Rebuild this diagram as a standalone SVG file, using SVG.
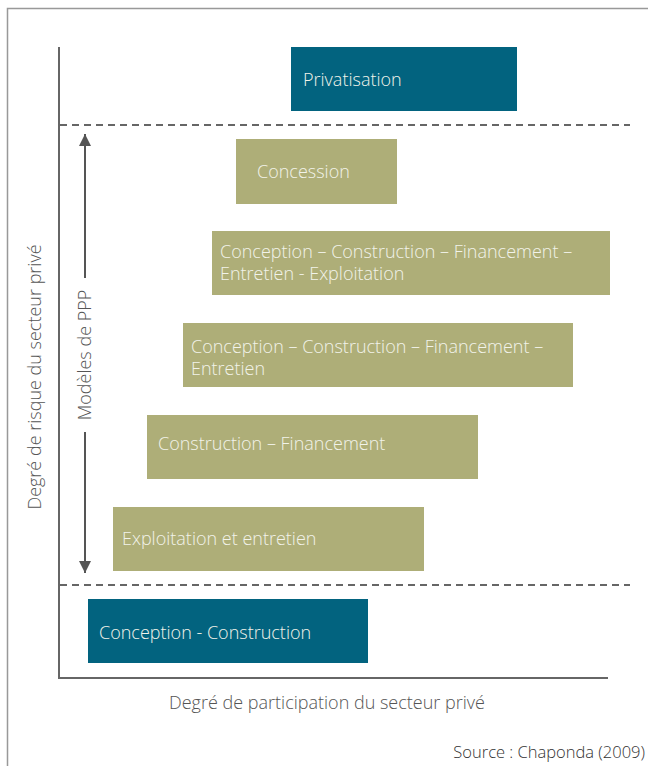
<svg xmlns="http://www.w3.org/2000/svg" width="648" height="766" viewBox="0 0 648 766">
<defs>
<style>
.blue{fill:#02637F}
.olive{fill:#AEAE78}
.bt{font-family:"Open Sans","Noto Sans",sans-serif;font-weight:300;font-size:18px;fill:#F2F3EA}
.gt{font-family:"Open Sans","Noto Sans",sans-serif;font-weight:300;font-size:18px;fill:#555}
.src{font-family:"Open Sans","Noto Sans",sans-serif;font-weight:300;font-size:16.5px;fill:#333}
.ax{stroke:#666;stroke-width:2;fill:none}
.dash{stroke:#666;stroke-width:2;stroke-dasharray:7 5;fill:none}
</style>
<marker id="ah" viewBox="0 0 10 10" refX="10" refY="5" markerWidth="6" markerHeight="7" markerUnits="strokeWidth" orient="auto-start-reverse">
<path d="M0,0 L10,5 L0,10 z" fill="#555"/>
</marker>
</defs>
<rect x="0" y="0" width="648" height="766" fill="#fff"/>
<path d="M7.5,766 V8.5 H648" stroke="#999" stroke-width="1.5" fill="none"/>
<g id="axes">
<path class="ax" d="M59,47 V678 H608"/>
<path class="dash" d="M60,125 H630"/>
<path class="dash" d="M60,585 H630"/>
</g>
<g id="connectors">
<line x1="85" y1="278" x2="85" y2="134" stroke="#555" stroke-width="2" marker-end="url(#ah)"/>
<line x1="85" y1="432" x2="85" y2="573" stroke="#555" stroke-width="2" marker-end="url(#ah)"/>
</g>
<text class="gt" transform="translate(91,355) rotate(-90)" text-anchor="middle">Modèles de PPP</text>
<text class="gt" transform="translate(41,377) rotate(-90)" text-anchor="middle">Degré de risque du secteur privé</text>
<text class="gt" x="327" y="709" text-anchor="middle">Degré de participation du secteur privé</text>
<text class="src" x="645" y="758" text-anchor="end">Source : Chaponda (2009)</text>
<g id="privatisation">
<rect class="blue" x="291" y="47" width="226" height="64"/>
<text class="bt" x="303" y="86">Privatisation</text>
</g>
<g id="concession">
<rect class="olive" x="236" y="139" width="161" height="65"/>
<text class="bt" x="257" y="178">Concession</text>
</g>
<g id="ccfee">
<rect class="olive" x="212" y="231" width="398" height="64"/>
<text class="bt" x="220" y="258">Conception – Construction – Financement –</text>
<text class="bt" x="220" y="280">Entretien - Exploitation</text>
</g>
<g id="ccfe">
<rect class="olive" x="183" y="323" width="390" height="64"/>
<text class="bt" x="191" y="353">Conception – Construction – Financement –</text>
<text class="bt" x="191" y="375">Entretien</text>
</g>
<g id="cf">
<rect class="olive" x="147" y="415" width="331" height="64"/>
<text class="bt" x="158" y="450">Construction – Financement</text>
</g>
<g id="ee">
<rect class="olive" x="113" y="507" width="311" height="64"/>
<text class="bt" x="122" y="545">Exploitation et entretien</text>
</g>
<g id="cc">
<rect class="blue" x="88" y="599" width="280" height="64"/>
<text class="bt" x="99" y="639">Conception - Construction</text>
</g>
</svg>
